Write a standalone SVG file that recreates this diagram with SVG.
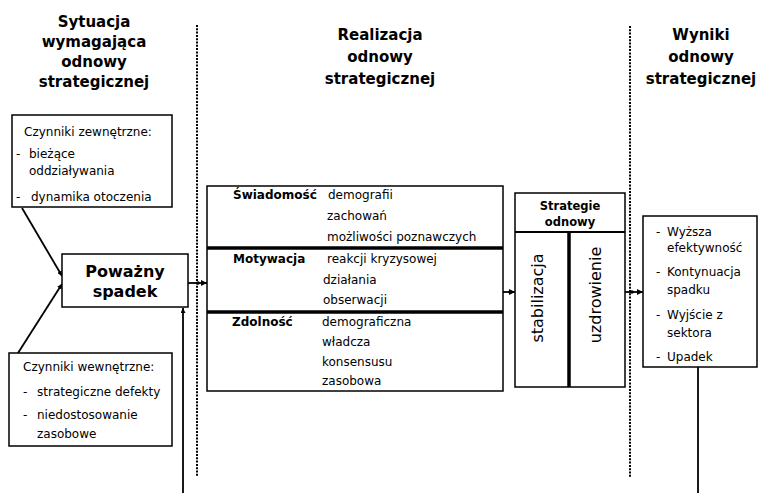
<svg xmlns="http://www.w3.org/2000/svg" width="759" height="493" viewBox="0 0 759 493">
<defs>
<style>
.t{font-family:"DejaVu Sans","Liberation Sans",sans-serif;font-size:12px;fill:#000}
.b{font-weight:bold}
.h{font-family:"DejaVu Sans","Liberation Sans",sans-serif;font-size:15px;font-weight:bold;fill:#000;text-anchor:middle}
.box{fill:#fff;stroke:#000;stroke-width:1.5}
.dot{stroke:#000;stroke-width:2;stroke-dasharray:2 1.3;fill:none}
.ln{stroke:#000;stroke-width:1.8;fill:none}
.thick{stroke:#000;stroke-width:3.5}
</style>
<marker id="ah" viewBox="0 0 10 10" refX="10" refY="5" markerWidth="5" markerHeight="5" orient="auto" markerUnits="userSpaceOnUse">
<path d="M0,0 L10,5 L0,10 z" fill="#000"/>
</marker>
<marker id="ahs" viewBox="0 0 10 10" refX="10" refY="5" markerWidth="6" markerHeight="6" orient="auto" markerUnits="userSpaceOnUse">
<path d="M0,0 L10,5 L0,10 z" fill="#000"/>
</marker>
</defs>
<rect width="759" height="493" fill="#fff"/>

<g id="titles">
<text class="h" x="94" y="27">Sytuacja</text>
<text class="h" x="94" y="47">wymagająca</text>
<text class="h" x="94" y="67">odnowy</text>
<text class="h" x="94" y="87">strategicznej</text>
<text class="h" x="380" y="40">Realizacja</text>
<text class="h" x="380" y="62">odnowy</text>
<text class="h" x="380" y="84">strategicznej</text>
<text class="h" x="701" y="40">Wyniki</text>
<text class="h" x="701" y="62">odnowy</text>
<text class="h" x="701" y="84">strategicznej</text>
</g>

<g id="separators">
<line class="dot" x1="197" y1="25" x2="197" y2="477"/>
<line class="dot" x1="630" y1="26" x2="630" y2="478"/>
</g>

<g id="connectors">
<line class="ln" x1="22" y1="208" x2="62" y2="276" marker-end="url(#ah)"/>
<line class="ln" x1="18" y1="353" x2="62" y2="284" marker-end="url(#ah)"/>
<line class="ln" x1="183" y1="493" x2="183" y2="308" marker-end="url(#ah)"/>
<line class="ln" x1="188" y1="283" x2="207" y2="283" marker-end="url(#ahs)"/>
<circle cx="198" cy="283" r="1.8"/>
<line class="ln" x1="503" y1="292" x2="515" y2="292" marker-end="url(#ahs)"/>
<circle cx="510" cy="292" r="1.8"/>
<line class="ln" x1="625" y1="292" x2="643" y2="292" marker-end="url(#ahs)"/>
<circle cx="632" cy="292" r="1.8"/>
<line class="ln" x1="698" y1="367" x2="698" y2="493"/>
</g>

<g id="external">
<rect class="box" x="12" y="115" width="160" height="92"/>
<text class="t" x="24" y="136">Czynniki zewnętrzne:</text>
<text class="t" x="16" y="158">-</text>
<text class="t" x="29" y="158">bieżące</text>
<text class="t" x="29" y="175">oddziaływania</text>
<text class="t" x="16" y="201">-</text>
<text class="t" x="31" y="201">dynamika otoczenia</text>
</g>

<g id="decline">
<rect class="box" x="62" y="254" width="126" height="53" stroke-width="2"/>
<text class="h" x="125" y="277" style="font-size:16px">Poważny</text>
<text class="h" x="125" y="297" style="font-size:16px">spadek</text>
</g>

<g id="internal">
<rect class="box" x="9" y="353" width="163" height="93"/>
<text class="t" x="23" y="371">Czynniki wewnętrzne:</text>
<text class="t" x="23" y="396">-</text>
<text class="t" x="37" y="396">strategiczne defekty</text>
<text class="t" x="23" y="419">-</text>
<text class="t" x="37" y="419">niedostosowanie</text>
<text class="t" x="37" y="438">zasobowe</text>
</g>

<g id="realization">
<rect class="box" x="207" y="186" width="296" height="205"/>
<line class="thick" x1="207" y1="248" x2="503" y2="248"/>
<line class="thick" x1="207" y1="312" x2="503" y2="312"/>
<text class="t b" x="233" y="199">Świadomość</text>
<text class="t" x="328" y="199">demografii</text>
<text class="t" x="327" y="220">zachowań</text>
<text class="t" x="327" y="241">możliwości poznawczych</text>
<text class="t b" x="233" y="263">Motywacja</text>
<text class="t" x="327" y="263">reakcji kryzysowej</text>
<text class="t" x="323" y="284">działania</text>
<text class="t" x="323" y="304">obserwacji</text>
<text class="t b" x="232" y="326">Zdolność</text>
<text class="t" x="322" y="326">demograficzna</text>
<text class="t" x="322" y="346">władcza</text>
<text class="t" x="322" y="366">konsensusu</text>
<text class="t" x="322" y="385">zasobowa</text>
</g>

<g id="strategies">
<rect class="box" x="515" y="193" width="110" height="194"/>
<line class="ln" x1="515" y1="232" x2="625" y2="232"/>
<line class="thick" x1="569" y1="232" x2="569" y2="387"/>
<text class="t b" x="570" y="210" text-anchor="middle" style="font-size:11.5px">Strategie</text>
<text class="t b" x="570" y="226" text-anchor="middle" style="font-size:11.5px">odnowy</text>
<text class="t" x="543" y="298" text-anchor="middle" style="font-size:16px" transform="rotate(-90 543 298)">stabilizacja</text>
<text class="t" x="601" y="295" text-anchor="middle" style="font-size:16px" transform="rotate(-90 601 295)">uzdrowienie</text>
</g>

<g id="results">
<rect class="box" x="643" y="216" width="114" height="151"/>
<text class="t" x="656" y="236">-</text>
<text class="t" x="667" y="236">Wyższa</text>
<text class="t" x="667" y="252">efektywność</text>
<text class="t" x="656" y="276">-</text>
<text class="t" x="667" y="276">Kontynuacja</text>
<text class="t" x="667" y="294">spadku</text>
<text class="t" x="656" y="319">-</text>
<text class="t" x="667" y="319">Wyjście z</text>
<text class="t" x="667" y="337">sektora</text>
<text class="t" x="656" y="361">-</text>
<text class="t" x="667" y="361">Upadek</text>
</g>
</svg>
